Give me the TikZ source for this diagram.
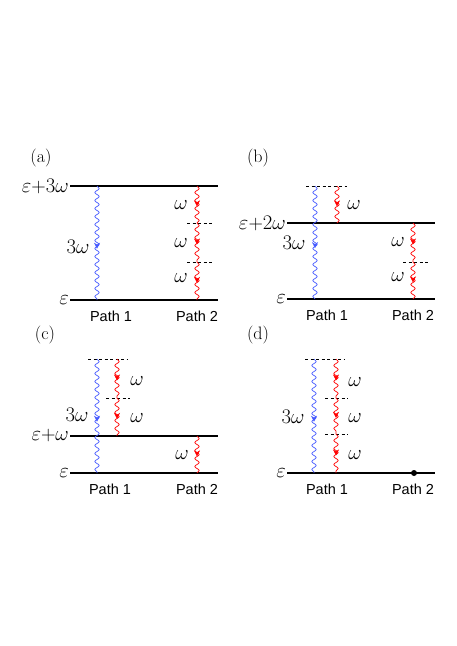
\documentclass[tikz,border=0pt]{standalone}
\usepackage{fontspec}
\setsansfont{Liberation Sans}
\usepackage{tikz}
\usetikzlibrary{decorations.pathmorphing,decorations.markings,arrows.meta,calc}

\definecolor{photonblue}{RGB}{70,90,255}
\definecolor{photonred}{RGB}{255,0,0}

\begin{document}
\begin{tikzpicture}[
    x=1pt, y=-1pt,
    level/.style={line width=1.1pt},
    virtual/.style={dashed, dash pattern=on 3pt off 2.5pt, line width=0.7pt},
    photon/.style={decorate, decoration={snake, segment length=8pt, amplitude=2.2pt}, line width=0.7pt},
    tipdown/.style={decoration={markings, mark=at position 0.55 with {\arrow{Stealth[length=6pt,width=6pt]}}}, postaction=decorate},
    elabel/.style={anchor=east, inner sep=1pt, font=\fontsize{20}{22}\selectfont},
    wlabel/.style={inner sep=0pt, font=\fontsize{20}{22}\selectfont},
    plabel/.style={inner sep=0pt, font=\sffamily\fontsize{14.5}{16}\selectfont},
    tag/.style={inner sep=0pt, font=\fontsize{18}{20}\selectfont}
]
    \useasboundingbox (0,0) rectangle (457,646);

    % (a)
    \node[tag] (taga) at (41,158) {(a)};
    \coordinate (a1l) at (70,186); \coordinate (a1r) at (218,186);
    \coordinate (a0l) at (70,300); \coordinate (a0r) at (218,300);
    \draw[level] (a1l) -- (a1r);
    \draw[level] (a0l) -- (a0r);
    \node[elabel] (ea1) at (a1l) {$\varepsilon$+$3\omega$};
    \node[elabel] (ea0) at (a0l) {$\varepsilon$};
    \coordinate (ab1) at (97,186); \coordinate (ab0) at (97,300);
    \draw[photon, photonblue] (ab1) -- (ab0);
    \path[tipdown, photonblue] (ab1) -- (ab0);
    \node[wlabel] (wa) at (78,247) {$3\omega$};
    \coordinate (ar3) at (197,186); \coordinate (ar2) at (197,223);
    \coordinate (ar1) at (197,262); \coordinate (ar0) at (197,300);
    \draw[virtual] (187,223) -- (212,223);
    \draw[virtual] (187,262) -- (212,262);
    \foreach \s/\e in {ar3/ar2, ar2/ar1, ar1/ar0} {
        \draw[photon, photonred] (\s) -- (\e);
        \path[tipdown, photonred] (\s) -- (\e);
    }
    \node[wlabel] at (181,205) {$\omega$};
    \node[wlabel] at (181,243) {$\omega$};
    \node[wlabel] at (181,278) {$\omega$};
    \node[plabel] (pa1) at (111,316) {Path 1};
    \node[plabel] (pa2) at (197,316) {Path 2};

    % (b)
    \node[tag] (tagb) at (258,158) {(b)};
    \coordinate (b1l) at (287,223); \coordinate (b1r) at (435,223);
    \coordinate (b0l) at (287,299); \coordinate (b0r) at (435,299);
    \draw[level] (b1l) -- (b1r);
    \draw[level] (b0l) -- (b0r);
    \draw[virtual] (306,186) -- (347,186);
    \node[elabel] (eb1) at (b1l) {$\varepsilon$+$2\omega$};
    \node[elabel] (eb0) at (b0l) {$\varepsilon$};
    \coordinate (bb1) at (315,186); \coordinate (bb0) at (315,299);
    \draw[photon, photonblue] (bb1) -- (bb0);
    \path[tipdown, photonblue] (bb1) -- (bb0);
    \node[wlabel] (wb) at (294,243) {$3\omega$};
    \coordinate (bq1) at (337,186); \coordinate (bq0) at (337,223);
    \draw[photon, photonred] (bq1) -- (bq0);
    \path[tipdown, photonred] (bq1) -- (bq0);
    \node[wlabel] at (354,205) {$\omega$};
    \coordinate (br2) at (413,223); \coordinate (br1) at (413,262);
    \coordinate (br0) at (413,299);
    \draw[virtual] (403,262) -- (428,262);
    \foreach \s/\e in {br2/br1, br1/br0} {
        \draw[photon, photonred] (\s) -- (\e);
        \path[tipdown, photonred] (\s) -- (\e);
    }
    \node[wlabel] at (398,242) {$\omega$};
    \node[wlabel] at (398,277) {$\omega$};
    \node[plabel] (pb1) at (327,315) {Path 1};
    \node[plabel] (pb2) at (413,315) {Path 2};

    % (c)
    \node[tag] (tagc) at (45,335) {(c)};
    \coordinate (c1l) at (70,436); \coordinate (c1r) at (218,436);
    \coordinate (c0l) at (70,473); \coordinate (c0r) at (218,473);
    \draw[level] (c1l) -- (c1r);
    \draw[level] (c0l) -- (c0r);
    \draw[virtual] (88,359) -- (128,359);
    \draw[virtual] (106,398) -- (130,398);
    \node[elabel] (ec1) at (c1l) {$\varepsilon$+$\omega$};
    \node[elabel] (ec0) at (c0l) {$\varepsilon$};
    \coordinate (cb1) at (97,359); \coordinate (cb0) at (97,473);
    \draw[photon, photonblue] (cb1) -- (cb0);
    \path[tipdown, photonblue] (cb1) -- (cb0);
    \node[wlabel] (wc) at (77,415) {$3\omega$};
    \coordinate (cq2) at (117,359); \coordinate (cq1) at (117,398);
    \coordinate (cq0) at (117,436);
    \foreach \s/\e in {cq2/cq1, cq1/cq0} {
        \draw[photon, photonred] (\s) -- (\e);
        \path[tipdown, photonred] (\s) -- (\e);
    }
    \node[wlabel] at (137,381) {$\omega$};
    \node[wlabel] at (137,418) {$\omega$};
    \coordinate (cr1) at (197,436); \coordinate (cr0) at (197,473);
    \draw[photon, photonred] (cr1) -- (cr0);
    \path[tipdown, photonred] (cr1) -- (cr0);
    \node[wlabel] at (182,455) {$\omega$};
    \node[plabel] (pc1) at (110,489) {Path 1};
    \node[plabel] (pc2) at (197,489) {Path 2};

    % (d)
    \node[tag] (tagd) at (258,335) {(d)};
    \coordinate (d0l) at (287,473); \coordinate (d0r) at (435,473);
    \draw[level] (d0l) -- (d0r);
    \draw[virtual] (305,359) -- (345,359);
    \draw[virtual] (325,398) -- (348,398);
    \draw[virtual] (325,434) -- (348,434);
    \node[elabel] (ed0) at (d0l) {$\varepsilon$};
    \coordinate (db1) at (314,359); \coordinate (db0) at (314,473);
    \draw[photon, photonblue] (db1) -- (db0);
    \path[tipdown, photonblue] (db1) -- (db0);
    \node[wlabel] (wd) at (293,417) {$3\omega$};
    \coordinate (dq3) at (336,359); \coordinate (dq2) at (336,398);
    \coordinate (dq1) at (336,434); \coordinate (dq0) at (336,473);
    \foreach \s/\e in {dq3/dq2, dq2/dq1, dq1/dq0} {
        \draw[photon, photonred] (\s) -- (\e);
        \path[tipdown, photonred] (\s) -- (\e);
    }
    \node[wlabel] at (355,382) {$\omega$};
    \node[wlabel] at (355,418) {$\omega$};
    \node[wlabel] at (355,455) {$\omega$};
    \node[circle, fill, inner sep=0pt, minimum size=6pt] (dot) at (414,473) {};
    \node[plabel] (pd1) at (327,489) {Path 1};
    \node[plabel] (pd2) at (413,489) {Path 2};
\end{tikzpicture}
\end{document}
